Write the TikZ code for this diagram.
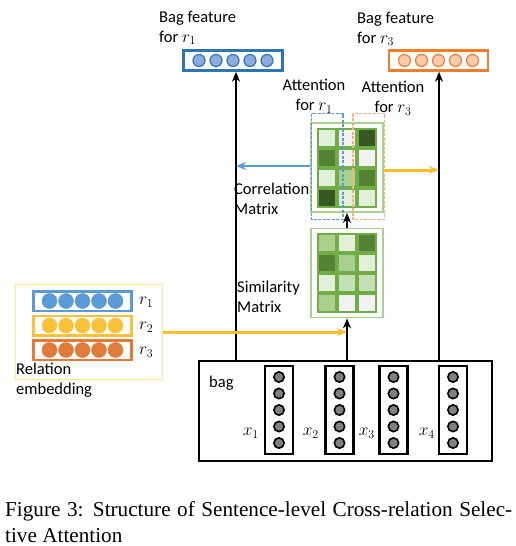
\documentclass[tikz,border=0pt]{standalone}
\usepackage{fontspec}
\setmainfont{Carlito}
\newfontfamily\capfont{Liberation Serif}
\usetikzlibrary{matrix,arrows.meta}
\definecolor{featblue}{HTML}{2E75B6}
\definecolor{featbluefill}{HTML}{8FAADC}
\definecolor{featorange}{HTML}{ED7D31}
\definecolor{featorangefill}{HTML}{F8CBAD}
\definecolor{relblue}{HTML}{5B9BD5}
\definecolor{relyellow}{HTML}{F9C13A}
\definecolor{relorange}{HTML}{E07B39}
\definecolor{relframe}{HTML}{FFE699}
\definecolor{arrblue}{HTML}{5B9BD5}
\definecolor{arryellow}{HTML}{FBBF2E}
\definecolor{gridframe}{HTML}{A9D08E}
\definecolor{gridline}{HTML}{70AD47}
\definecolor{ga}{HTML}{F2F2F2}
\definecolor{gb}{HTML}{E2EFDA}
\definecolor{gc}{HTML}{C5E0B4}
\definecolor{gd}{HTML}{A9D08E}
\definecolor{ge}{HTML}{548235}
\definecolor{gf}{HTML}{375623}
\definecolor{attorange}{HTML}{F4B183}
\tikzset{
  featvec/.style 2 args={matrix of nodes, ampersand replacement=\&, nodes in empty cells,
    draw=#1, line width=2.5pt, inner xsep=8.9pt, inner ysep=3.4pt, column sep=3.8pt,
    nodes={circle, draw=#1, fill=#2, line width=1.2pt, minimum size=12pt, inner sep=0pt}},
  relvec/.style={matrix of nodes, ampersand replacement=\&, nodes in empty cells,
    draw=#1, line width=2.5pt, inner xsep=8.2pt, inner ysep=2pt, column sep=1pt,
    nodes={circle, draw=#1, fill=#1, line width=0.5pt, minimum size=15pt, inner sep=0pt}},
  wordvec/.style={matrix of nodes, ampersand replacement=\&, nodes in empty cells,
    draw=black, line width=2.2pt, inner xsep=8pt, inner ysep=4.7pt, row sep=4.6pt,
    nodes={circle, draw=black, fill=gray, line width=1.6pt, minimum size=10.3pt, inner sep=0pt}},
  cellgrid/.style={matrix of nodes, ampersand replacement=\&, nodes in empty cells,
    draw=gridframe, line width=1.8pt, inner xsep=5.5pt, inner ysep=4.5pt,
    nodes={rectangle, draw=gridline, line width=2pt, minimum width=18.3pt, minimum height=18pt, inner sep=0pt}},
  lbl/.style={font=\fontsize{16.5}{20}\selectfont, align=left, inner sep=0pt},
  attbox/.style={line width=1.5pt, dash pattern=on 3pt off 1.5pt},
  blackarr/.style={->, line width=2.2pt}
}
\begin{document}
\begin{tikzpicture}[x=1pt, y=-1pt, >={Stealth[length=10pt,width=8pt]}]
  \useasboundingbox (0,0) rectangle (516,546);

  \node[featvec={featblue}{featbluefill}] (featA) at (233,60.5) { \& \& \& \& \\ };
  \node[featvec={featorange}{featorangefill}] (featC) at (438.5,60.5) { \& \& \& \& \\ };
  \node[lbl, anchor=west] (featAlbl) at (159,28) {Bag feature\\for $r_1$};
  \node[lbl, anchor=west] (featClbl) at (357,29) {Bag feature\\for $r_3$};

  \node[cellgrid] (corr) at (347,167.5) {
    |[fill=gb]| \& |[fill=ga]| \& |[fill=gf]| \\
    |[fill=ge]| \& |[fill=ga]| \& |[fill=ga]| \\
    |[fill=gb]| \& |[fill=gd]| \& |[fill=ge]| \\
    |[fill=gf]| \& |[fill=gb]| \& |[fill=gb]| \\
  };
  \draw[attbox, arrblue]
    ([xshift=-5pt,yshift=14pt]corr-1-1.north west) rectangle ([xshift=6pt,yshift=-12pt]corr-4-1.south east);
  \draw[attbox, attorange]
    ([xshift=-4pt,yshift=14pt]corr-1-3.north west) rectangle ([xshift=7pt,yshift=-12pt]corr-4-3.south east);
  \node[lbl, align=center] (attA) at (314,96) {Attention\\for $r_1$};
  \node[lbl, align=center] (attC) at (393,98) {Attention\\for $r_3$};
  \node[lbl, anchor=west] (corrlbl) at (234,199) {Correlation\\Matrix};

  \node[cellgrid] (sim) at (347,273) {
    |[fill=gd]| \& |[fill=gb]| \& |[fill=ge]| \\
    |[fill=ge]| \& |[fill=gd]| \& |[fill=gb]| \\
    |[fill=gb]| \& |[fill=gc]| \& |[fill=gc]| \\
    |[fill=gd]| \& |[fill=ga]| \& |[fill=ga]| \\
  };
  \node[lbl, anchor=west] (simlbl) at (237,297) {Similarity\\Matrix};

  \node[draw=relframe, line width=1.5pt, minimum width=147pt, minimum height=95pt] (rel) at (89,332) {};
  \node[relvec=relblue] (relA) at (82.5,301) { \& \& \& \& \\ };
  \node[relvec=relyellow] (relB) at (82.5,325.5) { \& \& \& \& \\ };
  \node[relvec=relorange] (relC) at (82.5,350) { \& \& \& \& \\ };
  \node[lbl, anchor=west] (relAlbl) at (139,302) {$r_1$};
  \node[lbl, anchor=west] (relBlbl) at (139,327) {$r_2$};
  \node[lbl, anchor=west] (relClbl) at (139,352) {$r_3$};
  \node[lbl, anchor=west] (rellbl) at (16,380) {Relation\\embedding};

  \node[draw, line width=2.2pt, minimum width=293pt, minimum height=100pt] (bag) at (345.5,411) {};
  \node[lbl, anchor=west] (baglbl) at (209,383) {bag};
  \node[wordvec] (vecA) at (279,410) { \\ \\ \\ \\ \\ };
  \node[wordvec] (vecB) at (339.5,410) { \\ \\ \\ \\ \\ };
  \node[wordvec] (vecC) at (393.5,410) { \\ \\ \\ \\ \\ };
  \node[wordvec] (vecD) at (453,410) { \\ \\ \\ \\ \\ };
  \node[lbl, anchor=east] (vecAlbl) at (259,433) {$x_1$};
  \node[lbl, anchor=east] (vecBlbl) at (319,433) {$x_2$};
  \node[lbl, anchor=east] (vecClbl) at (375,433) {$x_3$};
  \node[lbl, anchor=east] (vecDlbl) at (435,433) {$x_4$};

  \coordinate (upA) at ([xshift=3pt]featA.south);
  \coordinate (upC) at ([xshift=0.5pt]featC.south);
  \coordinate (corrL) at ([yshift=1.5pt]corr.west);
  \coordinate (corrR) at ([yshift=-2.5pt]corr.east);
  \draw[blackarr] (upA |- bag.north) -- (upA);
  \draw[blackarr] (upC |- bag.north) -- (upC);
  \draw[blackarr] (sim.south |- bag.north) -- (sim.south);
  \draw[blackarr] (sim.north) -- (corr.south);
  \draw[->, arrblue, line width=2.5pt] (corrL) -- (upA |- corrL);
  \draw[->, arryellow, line width=3pt] (corrR) -- (upC |- corrR);
  \draw[->, arryellow, line width=3pt] (rel.east) -- (sim.south |- rel.east);

  \node[font=\capfont\fontsize{21.2}{26}\selectfont, text width=507pt, align=justify, inner sep=0pt, anchor=north west]
    (caption) at (5,501) {Figure 3: Structure of Sentence-level Cross-relation Selec-\linebreak tive Attention};
\end{tikzpicture}
\end{document}
